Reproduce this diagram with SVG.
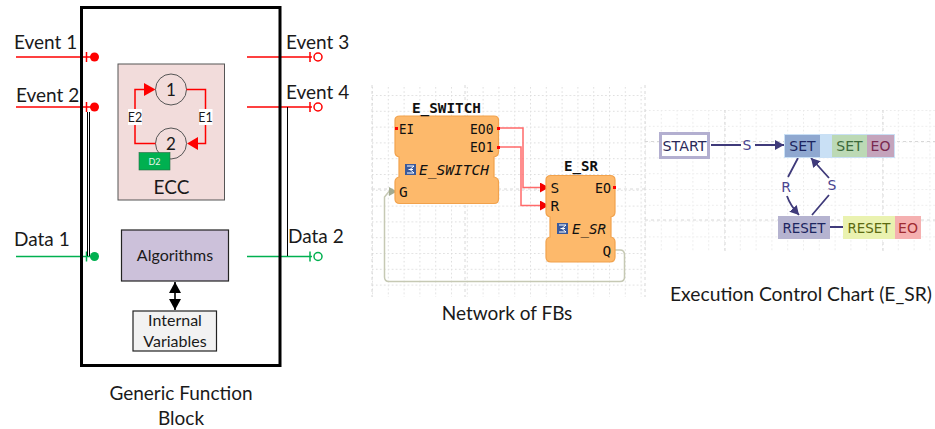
<svg xmlns="http://www.w3.org/2000/svg" width="935" height="429" viewBox="0 0 935 429">
<style>
text{font-family:"Lato","Open Sans","Liberation Sans",sans-serif;fill:#1a1a1a}
.t{font-size:19px}
.m{font-size:16px}
.c{text-anchor:middle}
.mono{font-family:"DejaVu Sans Mono","Liberation Mono",monospace;font-size:14.500px;fill:#111}
.ch{font-family:"DejaVu Sans","Noto Sans",sans-serif;font-size:14px;text-anchor:middle}
.fb{fill:#fdb96b;stroke:#f2a24c;stroke-width:1.2}
.red{stroke:#fe0000;stroke-width:1.5;fill:none}
.grn{stroke:#00b050;stroke-width:1.5;fill:none}
.st{fill:none;stroke:#555;stroke-width:1}
.arc{fill:none;stroke:#3f3a7a;stroke-width:1.8}
</style>
<defs>
<pattern id="g1" x="372" y="95" width="15.8" height="15.8" patternUnits="userSpaceOnUse"><path d="M0.5 0V15.8M0 0.5H15.8" fill="none" stroke="#dcdcdc" stroke-width="1" stroke-dasharray="1.5 2.5"/></pattern>
<pattern id="g2" x="645" y="110" width="15.8" height="15.8" patternUnits="userSpaceOnUse"><path d="M0.5 0V15.8M0 0.5H15.8" fill="none" stroke="#e8e8e8" stroke-width="1" stroke-dasharray="1.5 2.5"/></pattern>
<marker id="ar" markerWidth="10" markerHeight="11" refX="9" refY="5" orient="auto" markerUnits="userSpaceOnUse"><path d="M0 0L9 5L0 10Z" fill="#f40000"/></marker>
<marker id="dk" markerWidth="10" markerHeight="11" refX="9" refY="5" orient="auto" markerUnits="userSpaceOnUse"><path d="M0 0L9 5L0 10Z" fill="#3f3a7a"/></marker>
<marker id="bl" markerWidth="13" markerHeight="13" refX="11" refY="6" orient="auto-start-reverse" markerUnits="userSpaceOnUse"><path d="M0 0L11 6L0 12Z" fill="#000"/></marker>
<g id="icon"><rect width="11" height="11" fill="#3a5a9c"/><path d="M2 2H9L5 5.5L9 9H2M3.5 5.5H8" fill="none" stroke="#fff" stroke-width="1"/></g>
</defs>

<g id="grids">
<rect x="372" y="85" width="273" height="212" fill="url(#g1)"/>
<rect x="645" y="110" width="290" height="142" fill="url(#g2)"/>
<path d="M372 189H645M645 141.500H935M645 220H935M725 110V252M883 110V252M372 85V297M465 85V297M645 85V297" fill="none" stroke="#d8d8d8" stroke-dasharray="3 3"/>
</g>

<g id="connectors">
<path class="red" d="M16 57H91"/>
<path class="red" d="M86.500 52V62"/>
<path class="red" d="M16 107H91"/>
<path class="red" d="M86.500 102V112"/>
<path class="grn" d="M16 256.500H91"/>
<path class="grn" d="M86.500 251.500V261.500"/>
<path class="red" d="M247 57H312"/>
<path class="red" d="M310 52V62"/>
<path class="red" d="M247 107H312"/>
<path class="red" d="M310 102V112"/>
<path class="grn" d="M247 256.500H312"/>
<path class="grn" d="M310 251.500V261.500"/>
<path d="M87.500 112V256M89.500 112V256M287.500 107V256" fill="none" stroke="#000" stroke-width="1"/>
<path d="M175 282V310" fill="none" stroke="#333" stroke-width="2" marker-start="url(#bl)" marker-end="url(#bl)"/>
<path class="red" d="M498 128H523V187.500H549" marker-end="url(#ar)" style="stroke:#ff6a6a"/>
<path class="red" d="M498 147H521V205.500H549" marker-end="url(#ar)" style="stroke:#ff6a6a"/>
<path d="M615 250H620Q624.500 250 624.500 255V277Q624.500 281.500 620 281.500H389Q384.500 281.500 384.500 277V197L389 191.500H397" fill="none" stroke="#c6c9b4" stroke-width="1.5"/>
<path d="M389 187L397 191.500L389 196Z" fill="#a4ab90"/>
<path class="arc" d="M711 145H741M755 145H784" marker-end="url(#dk)"/>
<path class="arc" d="M798 158L788 177M787 196Q790 205 799 215" marker-end="url(#dk)"/>
<path class="arc" d="M812 215L829 195M829 178L811 158" marker-end="url(#dk)"/>
<path class="arc" d="M820 145.500H832M830 227H843"/>
</g>

<g id="block"><rect x="81.500" y="7.500" width="198.500" height="358" fill="none" stroke="#000" stroke-width="3"/></g>
<g id="ports">
<circle cx="94.500" cy="57" r="4.500" fill="#fe0000"/>
<circle cx="94.500" cy="107" r="4.500" fill="#fe0000"/>
<circle cx="94.500" cy="256.500" r="4.500" fill="#00b050"/>
<circle cx="318" cy="57" r="4" fill="#fff" stroke="#fe0000" stroke-width="1.5"/>
<circle cx="318" cy="107" r="4" fill="#fff" stroke="#fe0000" stroke-width="1.5"/>
<circle cx="318" cy="256.500" r="4" fill="#fff" stroke="#00b050" stroke-width="1.5"/>
<text class="t" x="14" y="49">Event 1</text>
<text class="t" x="16" y="102">Event 2</text>
<text class="t" x="14" y="246">Data 1</text>
<text class="t" x="286" y="49">Event 3</text>
<text class="t" x="286" y="99">Event 4</text>
<text class="t" x="288" y="243">Data 2</text>
</g>

<g id="ecc">
<rect x="118" y="64" width="106.500" height="136" fill="#f2dcdb" stroke="#555" stroke-width="1"/>
<circle class="st" cx="171" cy="89.500" r="15.500"/>
<circle class="st" cx="171" cy="143.500" r="15.500"/>
<path class="red" d="M155.500 143.500H135V89.500H145"/>
<path d="M144 83L155.500 89.500L144 96Z" fill="#fe0000"/>
<path class="red" d="M186.500 89.500H205.500V143.500H197"/>
<path d="M198 137L187 143.500L198 150Z" fill="#fe0000"/>
<rect x="128" y="109" width="14" height="16" fill="#fff"/>
<rect x="199" y="109" width="13.500" height="16" fill="#fff"/>
<text class="c" x="135" y="122" style="font-size:12.500px">E2</text>
<text class="c" x="205.500" y="122" style="font-size:12.500px">E1</text>
<text class="c" x="171" y="95.500" style="font-size:17px">1</text>
<text class="c" x="171" y="149.500" style="font-size:17px">2</text>
<rect x="139" y="152.500" width="31" height="17.500" fill="#00b050" stroke="#2a6a45" stroke-width="0.600"/>
<text class="c" x="154.500" y="165" style="font-size:9px;fill:#e8f5ec">D2</text>
<text class="c t" x="171.500" y="194">ECC</text>
</g>

<g id="algorithms">
<rect x="121.500" y="230" width="107" height="51" fill="#ccc1da" stroke="#222" stroke-width="1.200"/>
<text class="c m" x="175" y="261">Algorithms</text>
</g>
<g id="internal-variables">
<rect x="133" y="311" width="83.500" height="40" fill="#f2f2f2" stroke="#222" stroke-width="1.200"/>
<text class="c m" x="175" y="326">Internal</text>
<text class="c m" x="175" y="347">Variables</text>
</g>
<text class="c t" x="181" y="400">Generic Function</text>
<text class="c t" x="181" y="425">Block</text>

<g id="e-switch">
<path class="fb" d="M400 116H494Q498.500 116 498.500 120V152Q498.500 156 494 157V177Q498.500 178 498.500 182V199Q498.500 203.500 494 203.500H400Q395 203.500 395 199V182Q395 178 399 177V157Q395 156 395 152V120Q395 116 400 116Z"/>
<text x="446.500" y="113" class="mono c" style="font-weight:bold" textLength="69" lengthAdjust="spacingAndGlyphs">E_SWITCH</text>
<text x="399" y="133.500" class="mono" textLength="15" lengthAdjust="spacingAndGlyphs">EI</text>
<text x="470" y="133.500" class="mono" textLength="23.500" lengthAdjust="spacingAndGlyphs">EO0</text>
<text x="470" y="152" class="mono" textLength="23.500" lengthAdjust="spacingAndGlyphs">EO1</text>
<use href="#icon" x="405" y="164"/>
<text x="419" y="174.500" class="mono" style="font-style:italic" textLength="70" lengthAdjust="spacingAndGlyphs">E_SWITCH</text>
<text x="399" y="196.500" class="mono">G</text>
<rect x="395" y="127" width="3" height="3" fill="#fe0000"/>
<rect x="497" y="127" width="3" height="3" fill="#fe0000"/>
<rect x="497" y="146" width="3" height="3" fill="#fe0000"/>
</g>
<g id="e-sr">
<path class="fb" d="M551 175.500H610Q615 175.500 615 180V212Q615 216 611 217V237Q615 238 615 242V257Q615 262 610 262H551Q546 262 546 257V242Q546 238 550 237V217Q546 216 546 212V180Q546 175.500 551 175.500Z"/>
<text x="581" y="171" class="mono c" style="font-weight:bold" textLength="34" lengthAdjust="spacingAndGlyphs">E_SR</text>
<text x="550.500" y="193" class="mono">S</text>
<text x="550.500" y="211" class="mono">R</text>
<text x="595" y="193" class="mono" textLength="16" lengthAdjust="spacingAndGlyphs">EO</text>
<use href="#icon" x="557" y="223"/>
<text x="572" y="233.500" class="mono" style="font-style:italic" textLength="34" lengthAdjust="spacingAndGlyphs">E_SR</text>
<text x="602.500" y="256" class="mono">Q</text>
<rect x="613" y="186" width="3" height="3" fill="#fe0000"/>
</g>
<text class="c t" x="507" y="320">Network of FBs</text>

<g id="start"><rect x="660.500" y="133.500" width="48" height="24" fill="#fff" stroke="#b3afd0" stroke-width="3"/><text class="ch" x="684.500" y="150.500" style="fill:#2a2a5a" textLength="44" lengthAdjust="spacingAndGlyphs">START</text></g>
<text class="ch" x="747" y="150" style="fill:#4a4590">S</text>
<g id="set">
<rect x="784" y="134" width="111" height="24" fill="#c9e0f5"/>
<rect x="785" y="135" width="35" height="22" fill="#8fa8d0"/>
<rect x="832" y="135" width="35" height="22" fill="#bcd9b5"/>
<rect x="867" y="135" width="27" height="22" fill="#c4a4bc"/>
<text class="ch" x="802.500" y="151" style="fill:#1c2560">SET</text>
<text class="ch" x="849.500" y="151" style="fill:#3c6a3c">SET</text>
<text class="ch" x="880.500" y="151" style="fill:#7a2a50">EO</text>
</g>
<g id="reset">
<rect x="778" y="216" width="52" height="23" fill="#b5b3d0"/>
<rect x="843" y="216" width="52" height="23" fill="#eaf2b0"/>
<rect x="895" y="216" width="26" height="23" fill="#f5b0b0"/>
<text class="ch" x="804" y="232.500" style="fill:#1c2560" textLength="43" lengthAdjust="spacingAndGlyphs">RESET</text>
<text class="ch" x="869" y="232.500" style="fill:#5c6a10" textLength="43" lengthAdjust="spacingAndGlyphs">RESET</text>
<text class="ch" x="908" y="232.500" style="fill:#a02a30">EO</text>
</g>
<text class="ch" x="786" y="192" style="fill:#4a4590">R</text>
<text class="ch" x="832" y="190" style="fill:#4a4590">S</text>
<text class="c" style="font-size:19.300px" x="801" y="301">Execution Control Chart (E_SR)</text>
</svg>
